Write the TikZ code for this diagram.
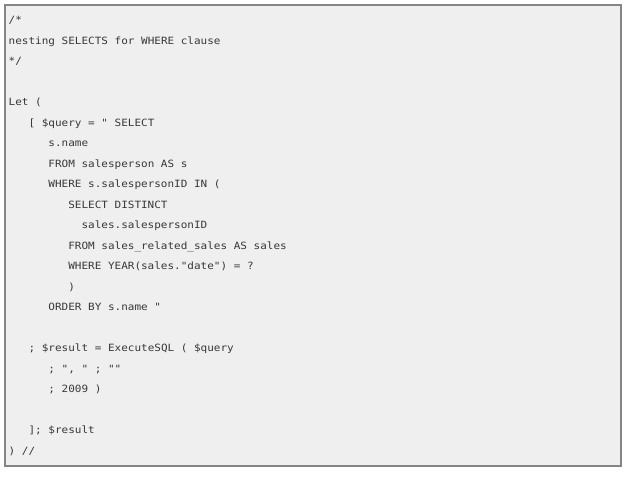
\documentclass[tikz,border=0pt]{standalone}
\usepackage{fontspec}
\newfontfamily\codefont[FakeStretch=1.1]{DejaVu Sans Mono}
\definecolor{boxfill}{HTML}{EFEFEF}
\definecolor{boxline}{HTML}{858585}
\definecolor{codetext}{HTML}{383838}
\begin{document}
\begin{tikzpicture}[x=1pt,y=-1pt,
  codeline/.style={anchor=base west,inner sep=0pt,font=\codefont\fontsize{10}{12}\selectfont,text=codetext}]
\useasboundingbox (0,0) rectangle (633,477);
\draw[boxline,line width=1.5pt,fill=boxfill] (5,5) rectangle (621,466);
\def\cw{6.62}
\def\lx{8.5}
\node[codeline] (l0)  at (\lx,23.5) {/*};
\node[codeline] (l1)  at (\lx,44) {nesting SELECTS for WHERE clause};
\node[codeline] (l2)  at (\lx,64.5) {*/};
\node[codeline] (l4)  at (\lx,105.5) {Let (};
\node[codeline] (l5)  at (\lx+3*\cw,126) {[ \$query = " SELECT};
\node[codeline] (l6)  at (\lx+6*\cw,146.5) {s.name};
\node[codeline] (l7)  at (\lx+6*\cw,167) {FROM salesperson AS s};
\node[codeline] (l8)  at (\lx+6*\cw,187.5) {WHERE s.salespersonID IN (};
\node[codeline] (l9)  at (\lx+9*\cw,208) {SELECT DISTINCT};
\node[codeline] (l10) at (\lx+11*\cw,228.5) {sales.salespersonID};
\node[codeline] (l11) at (\lx+9*\cw,249) {FROM sales\_related\_sales AS sales};
\node[codeline] (l12) at (\lx+9*\cw,269.5) {WHERE YEAR(sales."date") = ?};
\node[codeline] (l13) at (\lx+9*\cw,290) {)};
\node[codeline] (l14) at (\lx+6*\cw,310.5) {ORDER BY s.name "};
\node[codeline] (l16) at (\lx+3*\cw,351.5) {; \$result = ExecuteSQL ( \$query};
\node[codeline] (l17) at (\lx+6*\cw,372) {; ", " ; ""};
\node[codeline] (l18) at (\lx+6*\cw,392.5) {; 2009 )};
\node[codeline] (l20) at (\lx+3*\cw,433.5) {]; \$result};
\node[codeline] (l21) at (\lx,454) {) //};
\end{tikzpicture}
\end{document}
